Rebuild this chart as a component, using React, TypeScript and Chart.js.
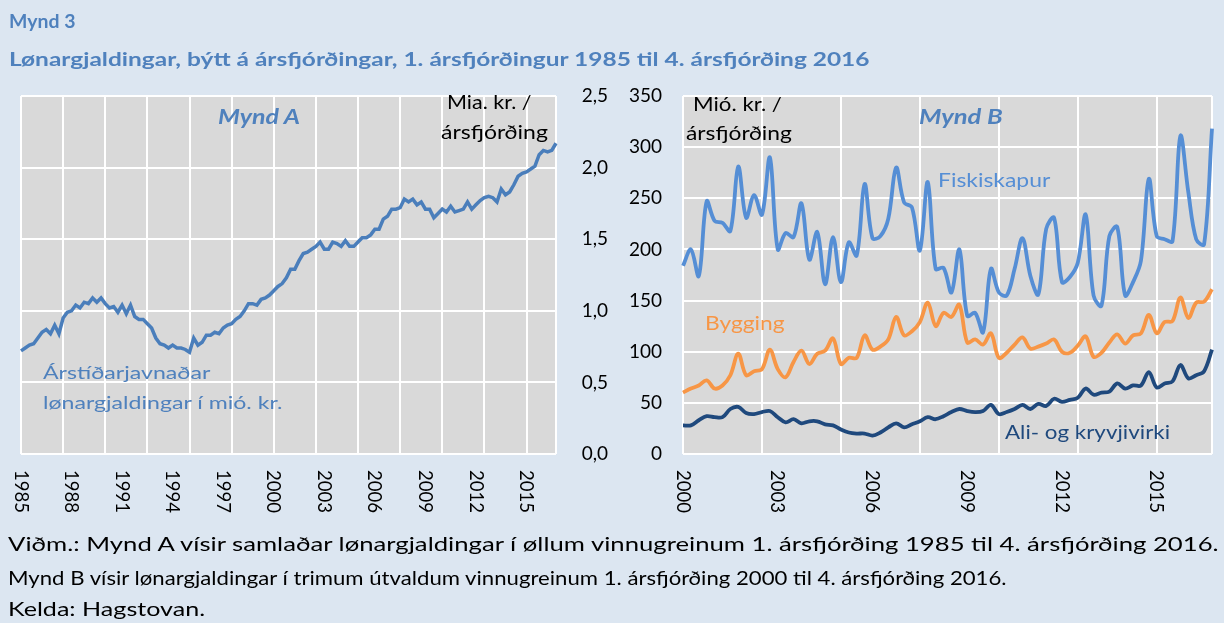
import React, { useEffect, useLayoutEffect, useRef, useState } from 'react';
import { Chart, registerables } from 'chart.js';
Chart.register(...registerables);

// ---------- categories ----------
const quartersA: string[] = [];
for (let y = 1985; y <= 2016; y++) for (let q = 1; q <= 4; q++) quartersA.push(`${y}K${q}`);
const quartersB: string[] = [];
for (let y = 2000; y <= 2016; y++) for (let q = 1; q <= 4; q++) quartersB.push(`${y}K${q}`);

const yearTicksA = ['1985', '1988', '1991', '1994', '1997', '2000', '2003', '2006', '2009', '2012', '2015'];
const yearTicksB = ['2000', '2003', '2006', '2009', '2012', '2015'];

// ---------- series ----------
// Mynd A: Árstíðarjavnaðar lønargjaldingar, mia. kr.
const lonA = [
  0.72, 0.74, 0.76, 0.77,
  0.81, 0.85, 0.87, 0.84,
  0.9, 0.84, 0.95, 0.99,
  1.0, 1.04, 1.02, 1.06,
  1.05, 1.09, 1.06, 1.09,
  1.05, 1.02, 1.03, 0.99,
  1.04, 0.98, 1.04, 0.96,
  0.94, 0.94, 0.91, 0.88,
  0.81, 0.77, 0.76, 0.74,
  0.76, 0.74, 0.74, 0.73,
  0.71, 0.81, 0.76, 0.78,
  0.83, 0.83, 0.85, 0.84,
  0.88, 0.9, 0.91, 0.94,
  0.96, 1.0, 1.05, 1.05,
  1.04, 1.08, 1.09, 1.11,
  1.14, 1.17, 1.19, 1.23,
  1.29, 1.29, 1.35, 1.4,
  1.41, 1.43, 1.45, 1.48,
  1.43, 1.43, 1.48, 1.47,
  1.45, 1.49, 1.45, 1.45,
  1.48, 1.51, 1.51, 1.53,
  1.57, 1.57, 1.64, 1.66,
  1.71, 1.71, 1.72, 1.78,
  1.76, 1.78, 1.74, 1.76,
  1.71, 1.71, 1.65, 1.68,
  1.71, 1.69, 1.73, 1.69,
  1.7, 1.71, 1.76, 1.71,
  1.74, 1.77, 1.79, 1.8,
  1.79, 1.76, 1.85, 1.81,
  1.83, 1.88, 1.94, 1.96,
  1.97, 1.99, 2.01, 2.09,
  2.12, 2.11, 2.12, 2.17,
];

// Mynd B: mió. kr.
const fiskiskapur = [
  184, 200, 174, 247,
  228, 226, 218, 281,
  231, 253, 234, 290,
  200, 216, 212, 245,
  190, 217, 166, 212,
  168, 207, 194, 264,
  211, 213, 230, 280,
  246, 241, 199, 266,
  181, 182, 158, 200,
  135, 138, 119, 181,
  158, 155, 181, 211,
  174, 156, 220, 231,
  168, 173, 187, 234,
  155, 145, 213, 222,
  155, 168, 189, 269,
  213, 210, 208, 311,
  256, 210, 205, 318,
];
const bygging = [
  60, 64, 67, 72,
  64, 67, 77, 98,
  77, 81, 83, 102,
  83, 75, 90, 101,
  88, 98, 101, 113,
  88, 94, 94, 116,
  102, 105, 112, 134,
  116, 120, 129, 148,
  125, 138, 134, 146,
  109, 112, 107, 118,
  94, 99, 107, 114,
  103, 105, 108, 112,
  100, 99, 106, 115,
  95, 99, 109, 117,
  108, 116, 118, 136,
  118, 129, 130, 153,
  133, 148, 149, 161,
];
const aliKryvji = [
  28, 28, 33, 37,
  36, 36, 44, 46,
  40, 39, 41, 42,
  36, 31, 34, 30,
  32, 32, 29, 28,
  24, 21, 20, 20,
  18, 21, 26, 30,
  26, 29, 32, 36,
  34, 37, 41, 44,
  42, 41, 42, 48,
  39, 41, 44, 48,
  44, 49, 47, 54,
  51, 53, 55, 64,
  58, 60, 61, 69,
  64, 67, 67, 80,
  65, 69, 71, 87,
  74, 77, 81, 102,
];

const FONT = 'Lato, "Open Sans", sans-serif';
const W = 1224;
const H = 623;

const plotBg = {
  id: 'plotBg',
  beforeDraw(chart: any) {
    const { ctx, chartArea: a } = chart;
    ctx.save();
    ctx.fillStyle = '#d9d9d9';
    ctx.fillRect(a.left, a.top, a.right - a.left, a.bottom - a.top);
    ctx.restore();
  },
};

function yearLabels(cats: string[], years: string[]) {
  return {
    id: 'yearLabels',
    afterDraw(chart: any) {
      const sx = chart.scales.x;
      const ctx = chart.ctx;
      ctx.save();
      ctx.font = `20px ${FONT}`;
      ctx.fillStyle = '#000';
      ctx.textAlign = 'left';
      ctx.textBaseline = 'middle';
      years.forEach((yr) => {
        const idx = cats.indexOf(yr + 'K1');
        const px = sx.getPixelForValue(idx);
        ctx.save();
        ctx.translate(px, chart.chartArea.bottom + 16);
        ctx.rotate(Math.PI / 2);
        ctx.fillText(yr, 0, 0, 43);
        ctx.restore();
      });
      ctx.restore();
    },
  };
}

function gridX(last: number) {
  return (c: any) => (c.index % 10 === 0 || c.index === last ? '#ffffff' : 'rgba(0,0,0,0)');
}

function FitText(props: {
  text: string; x: number; base: number; w: number; size: number;
  weight?: number; italic?: boolean; color?: string;
}) {
  const { text, x, base, w, size, weight = 400, italic = false, color = '#000' } = props;
  const ref = useRef<HTMLSpanElement>(null);
  const [sx, setSx] = useState(1);
  useLayoutEffect(() => {
    if (ref.current) {
      const nat = ref.current.offsetWidth;
      if (nat > 0) setSx(w / nat);
    }
  }, [text, w, size]);
  return (
    <span
      ref={ref}
      style={{
        position: 'absolute', left: x, top: base - 0.887 * size,
        fontFamily: FONT, fontSize: size, lineHeight: `${size}px`,
        fontWeight: weight, fontStyle: italic ? 'italic' : 'normal', color,
        whiteSpace: 'pre', transform: `scaleX(${sx})`, transformOrigin: 'left top',
      }}
    >{text}</span>
  );
}

export default function App() {
  const refA = useRef<HTMLCanvasElement>(null);
  const refB = useRef<HTMLCanvasElement>(null);

  useEffect(() => {
    Chart.defaults.font.family = FONT;
    const yTickFont = { size: 19, family: FONT };

    const chartA = new Chart(refA.current!, {
      type: 'line',
      data: {
        labels: quartersA,
        datasets: [{
          data: lonA, borderColor: '#4a7ebb', borderWidth: 3.5, pointRadius: 0,
          tension: 0, fill: false,
        }],
      },
      options: {
        animation: false, responsive: false,
        layout: { padding: { left: 21, top: 96, right: W - 608, bottom: H - 454 } },
        plugins: { legend: { display: false }, tooltip: { enabled: false } },
        scales: {
          x: {
            type: 'category',
            ticks: { display: false, autoSkip: false },
            grid: { color: gridX(quartersA.length - 1), lineWidth: 2, drawTicks: false },
            border: { display: false },
            afterFit: (s: any) => { s.height = 0; },
          },
          y: {
            position: 'right', min: 0, max: 2.5,
            ticks: {
              stepSize: 0.5, color: '#000', font: yTickFont, crossAlign: 'far',
              callback: (v: any) => Number(v).toFixed(1).replace('.', ','),
            },
            grid: { color: '#ffffff', lineWidth: 2, drawTicks: false },
            border: { display: false },
            afterFit: (s: any) => { s.width = 52; },
          },
        },
      },
      plugins: [plotBg, yearLabels(quartersA, yearTicksA)],
    } as any);

    const chartB = new Chart(refB.current!, {
      type: 'line',
      data: {
        labels: quartersB,
        datasets: [
          { label: 'Fiskiskapur', data: fiskiskapur, borderColor: '#558ed5', borderWidth: 3.8, pointRadius: 0, tension: 0.35, fill: false },
          { label: 'Bygging', data: bygging, borderColor: '#f79646', borderWidth: 3.8, pointRadius: 0, tension: 0.35, fill: false },
          { label: 'Ali- og kryvjivirki', data: aliKryvji, borderColor: '#1f497d', borderWidth: 3.8, pointRadius: 0, tension: 0.35, fill: false },
        ],
      },
      options: {
        animation: false, responsive: false,
        layout: { padding: { left: 683 - 60, top: 96, right: W - 1212, bottom: H - 454 } },
        plugins: { legend: { display: false }, tooltip: { enabled: false } },
        scales: {
          x: {
            type: 'category',
            ticks: { display: false, autoSkip: false },
            grid: { color: gridX(quartersB.length - 1), lineWidth: 2, drawTicks: false },
            border: { display: false },
            afterFit: (s: any) => { s.height = 0; },
          },
          y: {
            position: 'left', min: 0, max: 350,
            ticks: { stepSize: 50, color: '#000', font: yTickFont, padding: 21 },
            grid: { color: '#ffffff', lineWidth: 2, drawTicks: false },
            border: { display: false },
            afterFit: (s: any) => { s.width = 60; },
          },
        },
      },
      plugins: [plotBg, yearLabels(quartersB, yearTicksB)],
    } as any);

    return () => { chartA.destroy(); chartB.destroy(); };
  }, []);

  const blue = '#4f81bd';
  return (
    <div style={{ position: 'fixed', left: 0, top: 0, width: W, height: H, background: '#dce6f1', overflow: 'hidden' }}>
      <canvas ref={refA} width={W} height={H} style={{ position: 'absolute', left: 0, top: 0, width: W, height: H }} />
      <canvas ref={refB} width={W} height={H} style={{ position: 'absolute', left: 0, top: 0, width: W, height: H }} />

      <FitText text="Mynd 3" x={9} base={28} w={67} size={18} weight={700} color={blue} />
      <FitText text="Lønargjaldingar, býtt á ársfjórðingar, 1. ársfjórðingur 1985 til 4. ársfjórðing 2016" x={9} base={66} w={860} size={19} weight={700} color={blue} />

      <FitText text="Mynd A" x={218} base={124} w={82} size={21} weight={700} italic color={blue} />
      <FitText text="Mia. kr. /" x={447} base={109} w={85} size={20} />
      <FitText text="ársfjórðing" x={441} base={139} w={107} size={20} />
      <FitText text="Árstíðarjavnaðar" x={43} base={379} w={167} size={18} color={blue} />
      <FitText text="lønargjaldingar í mió. kr." x={43} base={409} w={240} size={18} color={blue} />

      <FitText text="Mió. kr. /" x={693} base={111} w={89} size={20} />
      <FitText text="ársfjórðing" x={686} base={140} w={106} size={20} />
      <FitText text="Mynd B" x={919} base={124} w={84} size={21} weight={700} italic color={blue} />
      <FitText text="Fiskiskapur" x={938} base={187} w={112} size={19} color="#558ed5" />
      <FitText text="Bygging" x={705} base={330} w={79} size={19} color="#f79646" />
      <FitText text="Ali- og kryvjivirki" x={1005} base={439} w={165} size={19} color="#1f497d" />

      <FitText text="Viðm.: Mynd A vísir samlaðar lønargjaldingar í øllum vinnugreinum 1. ársfjórðing 1985 til 4. ársfjórðing 2016." x={8} base={551} w={1211} size={20} />
      <FitText text="Mynd B vísir lønargjaldingar í trimum útvaldum vinnugreinum 1. ársfjórðing 2000 til 4. ársfjórðing 2016." x={8} base={585} w={998} size={20} />
      <FitText text="Kelda: Hagstovan." x={8} base={616} w={197} size={20} />
    </div>
  );
}
